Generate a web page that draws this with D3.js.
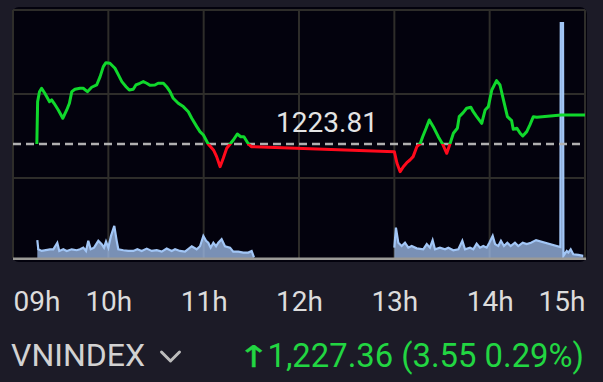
<!DOCTYPE html>
<html>
<head>
<meta charset="utf-8">
<script src="https://cdn.jsdelivr.net/npm/d3@7"></script>
<style>
html, body { margin: 0; padding: 0; background: #1c1b27; overflow: hidden; }
text { font-family: Roboto, "Noto Sans", sans-serif; }
</style>
</head>
<body>
<script>
const width = 603
const height = 382

// Index info
const symbol = "VNINDEX";
const refPrice = 1223.81;
const lastPrice = 1227.36;
const change = 3.55;
const changePct = 0.29;

// Hour labels on the time axis
const hourTicks = ["09:00:00", "10:00:00", "11:00:00", "12:00:00", "13:00:00", "14:00:00", "15:00:00"];
const hourLabels = ["09h", "10h", "11h", "12h", "13h", "14h", "15h"];

// Intraday index price
const priceTimes = [
    "09:15:00", "09:15:30", "09:16:40", "09:18:00", "09:20:00", "09:23:00", "09:24:20", "09:25:50",
    "09:28:30", "09:31:20", "09:33:50", "09:35:30", "09:37:00", "09:39:00", "09:42:10", "09:44:10",
    "09:46:50", "09:49:30", "09:52:40", "09:54:50", "09:56:50", "09:58:30", "10:01:00", "10:04:10",
    "10:06:20", "10:08:30", "10:11:10", "10:13:10", "10:15:40", "10:17:20", "10:19:50", "10:22:00",
    "10:24:10", "10:26:10", "10:29:20", "10:31:20", "10:34:40", "10:36:40", "10:38:50", "10:40:50",
    "10:44:00", "10:47:10", "10:50:20", "10:52:30", "10:55:40", "10:57:40", "10:59:50", "11:02:50",
    "11:06:10", "11:08:10", "11:10:20", "11:12:20", "11:14:30", "11:16:40", "11:18:40", "11:21:10",
    "11:23:20", "11:25:20", "11:28:10", "11:30:00", "13:00:00", "13:01:40", "13:03:40", "13:05:40",
    "13:07:50", "13:09:50", "13:11:50", "13:14:10", "13:16:10", "13:17:50", "13:20:00", "13:22:00",
    "13:24:30", "13:27:40", "13:30:20", "13:33:00", "13:35:00", "13:37:10", "13:39:40", "13:40:50",
    "13:43:20", "13:45:30", "13:48:10", "13:49:40", "13:51:50", "13:55:00", "13:57:10", "13:59:10",
    "14:01:20", "14:04:20", "14:06:30", "14:08:40", "14:11:10", "14:13:50", "14:14:50", "14:17:10",
    "14:19:10", "14:20:50", "14:23:20", "14:25:20", "14:27:30", "14:29:40", "14:45:00", "15:00:00"
];
const prices = [
    1223.81, 1228.99, 1230.21, 1230.63, 1230.02, 1228.99, 1229.20, 1228.79,
    1227.97, 1226.96, 1227.97, 1228.79, 1230.21, 1230.51, 1230.63, 1230.63,
    1230.21, 1230.75, 1231.03, 1232.05, 1233.27, 1233.76, 1233.69, 1233.08,
    1232.26, 1231.44, 1230.82, 1230.42, 1230.51, 1231.03, 1231.24, 1231.44,
    1231.24, 1230.99, 1231.03, 1231.24, 1231.24, 1230.82, 1230.21, 1229.40,
    1228.79, 1228.38, 1227.76, 1226.96, 1225.93, 1225.32, 1224.91, 1223.81,
    1223.08, 1222.26, 1221.03, 1222.06, 1223.28, 1223.81, 1224.30, 1225.03,
    1224.70, 1224.70, 1223.81, 1223.48, 1222.87, 1221.45, 1220.42, 1221.03,
    1221.52, 1221.85, 1222.26, 1223.48, 1223.81, 1224.70, 1225.73, 1226.75,
    1225.93, 1224.70, 1223.81, 1222.67, 1223.81, 1225.12, 1225.73, 1227.15,
    1227.64, 1228.18, 1228.30, 1227.76, 1227.15, 1226.34, 1227.97, 1228.38,
    1230.42, 1231.56, 1231.03, 1229.20, 1227.15, 1226.66, 1225.61, 1225.73,
    1225.12, 1224.79, 1225.32, 1226.14, 1227.15, 1227.08, 1227.36, 1227.36
];

// Matched volume (relative units), null = lunch break
const volTimes = [
    "09:15:18", "09:15:55", "09:18:04", "09:23:17", "09:25:22", "09:27:53", "09:29:08", "09:31:40",
    "09:33:48", "09:36:56", "09:40:05", "09:42:10", "09:44:14", "09:45:56", "09:47:23", "09:48:54",
    "09:51:00", "09:53:42", "09:55:50", "09:57:17", "09:58:33", "10:00:00", "10:01:40", "10:03:45",
    "10:05:16", "10:06:17", "10:09:26", "10:12:35", "10:15:44", "10:18:15", "10:21:00", "10:24:09",
    "10:27:18", "10:30:27", "10:33:36", "10:36:44", "10:39:53", "10:42:00", "10:45:06", "10:48:15",
    "10:52:30", "10:55:36", "10:57:42", "10:59:48", "11:01:30", "11:02:54", "11:04:24", "11:06:06",
    "11:07:48", "11:09:12", "11:11:18", "11:13:24", "11:16:36", "11:18:36", "11:21:48", "11:24:54",
    "11:28:06", "11:30:12", "11:31:40", "12:00:00",
    "13:00:00", "13:01:00", "13:02:30", "13:04:36", "13:06:42", "13:08:48", "13:10:54", "13:14:06",
    "13:18:12", "13:20:24", "13:22:24", "13:24:06", "13:25:36", "13:28:42", "13:31:54", "13:34:00",
    "13:37:06", "13:40:18", "13:42:48", "13:44:30", "13:47:36", "13:49:42", "13:51:48", "13:53:54",
    "13:56:00", "13:58:06", "13:59:48", "14:01:54", "14:03:24", "14:05:24", "14:07:06", "14:09:00",
    "14:11:06", "14:13:12", "14:15:54", "14:18:00", "14:20:48", "14:23:18", "14:26:00", "14:29:12",
    "14:44:30", "14:44:45", "14:46:10", "14:46:25", "14:48:30", "14:49:30", "14:51:00", "14:52:36",
    "14:55:48", "14:58:54"
];
const volumes = [
    7.6, 3.7, 3.0, 3.7, 3.7, 6.5, 3.0, 3.7,
    3.0, 3.7, 3.3, 3.7, 4.4, 3.0, 7.3, 3.7,
    4.4, 7.3, 5.9, 4.4, 7.0, 4.4, 9.4, 13.7,
    7.3, 3.7, 3.3, 3.0, 3.0, 3.7, 3.0, 4.0,
    3.0, 3.3, 2.7, 4.0, 3.0, 3.7, 3.0, 2.7,
    5.0, 3.7, 5.0, 9.4, 7.3, 6.5, 4.4, 6.5,
    5.0, 6.5, 8.0, 5.0, 4.4, 2.7, 2.7, 2.3,
    2.3, 3.0, 0.3, null,
    4.4, 12.9, 6.5, 5.1, 6.5, 4.4, 5.1, 4.1,
    3.7, 5.9, 4.4, 7.6, 3.7, 4.4, 3.7, 4.4,
    3.3, 3.7, 7.3, 3.7, 4.4, 3.7, 6.1, 4.4,
    5.1, 4.4, 6.5, 9.4, 5.9, 5.1, 7.3, 5.1,
    6.5, 5.1, 6.5, 5.1, 6.5, 5.9, 6.5, 7.6,
    4.7, 100, 100, 0.9, 3.0, 2.3, 3.7, 1.6,
    1.3, 0.9
];

const parseTime = d3.timeParse("%H:%M:%S");

const priceData = priceTimes.map((t, i) => ({ t: parseTime(t), v: prices[i] }));
const volData = volTimes.map((t, i) => ({ t: parseTime(t), v: volumes[i] }));

const svg = d3.select("body").append("svg")
    .attr("width", width)
    .attr("height", height);

// Scales
const x = d3.scaleTime()
    .domain([parseTime("09:00:00"), parseTime("15:00:00")])
    .range([13, 585]);

const y = d3.scaleLinear()
    .domain([1220, 1234])
    .range([175.1, 60.7]);

const yVol = d3.scaleLinear()
    .domain([0, 100])
    .range([258, 23]);

const rows = d3.scaleLinear()
    .domain([0, 3])
    .range([10, 262]);

// Chart panel
svg.append("rect")
    .attr("x", 12)
    .attr("y", 7)
    .attr("width", 575)
    .attr("height", 255)
    .attr("rx", 7)
    .attr("fill", "#03020d");

// Grid
const grid = svg.append("g")
    .attr("stroke", "#2e2d2a")
    .attr("stroke-width", 2);

grid.selectAll(".vline")
    .data(hourTicks.map(parseTime))
    .enter()
    .append("line")
    .attr("x1", d => x(d))
    .attr("x2", d => x(d))
    .attr("y1", rows(0))
    .attr("y2", 258);

grid.selectAll(".hline")
    .data([0, 1, 2])
    .enter()
    .append("line")
    .attr("x1", x.range()[0])
    .attr("x2", x.range()[1])
    .attr("y1", d => rows(d))
    .attr("y2", d => rows(d));

// Volume area
const area = d3.area()
    .defined(d => d.v != null)
    .x(d => x(d.t))
    .y0(yVol(0))
    .y1(d => yVol(d.v));

const volLine = d3.line()
    .defined(d => d.v != null)
    .x(d => x(d.t))
    .y(d => yVol(d.v));

svg.append("path")
    .datum(volData)
    .attr("d", area)
    .attr("fill", "#a3c2f0")
    .attr("fill-opacity", 0.74);

svg.append("path")
    .datum(volData)
    .attr("d", volLine)
    .attr("fill", "none")
    .attr("stroke", "#a2c6f6")
    .attr("stroke-width", 2.2);

// Bottom baseline
svg.append("line")
    .attr("x1", 13)
    .attr("x2", 586)
    .attr("y1", 258.8)
    .attr("y2", 258.8)
    .attr("stroke", "#9b9a96")
    .attr("stroke-width", 2.5);

// Reference price line
svg.append("line")
    .attr("x1", x.range()[0])
    .attr("x2", x.range()[1])
    .attr("y1", y(refPrice))
    .attr("y2", y(refPrice))
    .attr("stroke", "#b0b0b0")
    .attr("stroke-width", 2.6)
    .attr("stroke-dasharray", "8,5");

svg.append("text")
    .attr("x", 327)
    .attr("y", 132)
    .attr("text-anchor", "middle")
    .attr("font-size", 28)
    .attr("fill", "#e4e4e4")
    .text(refPrice.toFixed(2));

// Price line: green above reference, red below
const defs = svg.append("defs");
defs.append("clipPath").attr("id", "clip-up")
    .append("rect")
    .attr("x", 0).attr("y", 0)
    .attr("width", width).attr("height", y(refPrice));
defs.append("clipPath").attr("id", "clip-down")
    .append("rect")
    .attr("x", 0).attr("y", y(refPrice))
    .attr("width", width).attr("height", height - y(refPrice));

const priceLine = d3.line()
    .x(d => x(d.t))
    .y(d => y(d.v));

[["clip-up", "#10d82c"], ["clip-down", "#ff0a1c"]].forEach(([clip, color]) => {
    svg.append("path")
        .datum(priceData)
        .attr("d", priceLine)
        .attr("clip-path", `url(#${clip})`)
        .attr("fill", "none")
        .attr("stroke", color)
        .attr("stroke-width", 3)
        .attr("stroke-linejoin", "round");
});

// Time axis
const xAxis = d3.axisBottom(x)
    .tickValues(hourTicks.map(parseTime))
    .tickFormat((d, i) => hourLabels[i])
    .tickSize(0)
    .tickPadding(0);

const axisG = svg.append("g")
    .attr("transform", "translate(0,291)")
    .call(xAxis);

axisG.select(".domain").remove();
axisG.selectAll("text")
    .style("font-family", "Roboto, sans-serif")
    .attr("font-size", 28)
    .attr("fill", "#dcdcdc")
    .attr("text-anchor", (d, i) => i == 0 ? "start" : (i == hourTicks.length - 1 ? "end" : "middle"));

// Footer
svg.append("text")
    .attr("x", 11)
    .attr("y", 366)
    .attr("font-size", 32)
    .attr("fill", "#d2d2d2")
    .text(symbol);

svg.append("path")
    .attr("d", "M161.5,352 L170.5,361 L179.5,352")
    .attr("fill", "none")
    .attr("stroke", "#bcbcbc")
    .attr("stroke-width", 3)
    .attr("stroke-linecap", "round")
    .attr("stroke-linejoin", "round");

const quote = svg.append("text")
    .attr("x", 584)
    .attr("y", 367)
    .attr("text-anchor", "end")
    .attr("font-size", 32.8)
    .attr("fill", "#22d642")
    .text(`${d3.format(",.2f")(lastPrice)} (${change.toFixed(2)} ${changePct.toFixed(2)}%)`);

// Up arrow, widened to match the app glyph
const quoteStart = quote.node().getBBox().x;
svg.append("text")
    .attr("transform", `translate(${quoteStart - 14},367) scale(1.3,1)`)
    .attr("text-anchor", "middle")
    .style("font-family", "'DejaVu Sans'")
    .attr("font-size", 30)
    .attr("fill", "#22d642")
    .attr("stroke", "#22d642")
    .attr("stroke-width", 0.3)
    .text("↑");
</script>
</body>
</html>
